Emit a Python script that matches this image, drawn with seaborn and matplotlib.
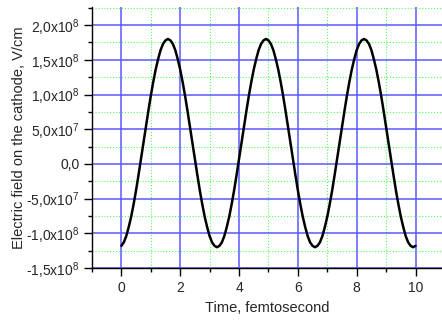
"""
Electric field on the cathode vs time, recreated with seaborn.
"""

import math

import matplotlib
matplotlib.use("Agg")
import matplotlib.pyplot as plt
from matplotlib.ticker import MultipleLocator, FuncFormatter
import numpy as np
import seaborn as sns

field_1e8 = [
    -1.18, -1.13, -1.04, -0.91, -0.76, -0.58, -0.38, -0.16, 0.07, 0.30,
    0.53, 0.76, 0.98, 1.18, 1.36, 1.51, 1.64, 1.73, 1.78, 1.80,
    1.78, 1.73, 1.64, 1.51, 1.36, 1.18, 0.98, 0.76, 0.53, 0.30,
    0.07, -0.16, -0.38, -0.58, -0.76, -0.91, -1.04, -1.13, -1.18, -1.20,
    -1.18, -1.13, -1.04, -0.91, -0.76, -0.58, -0.38, -0.16, 0.07, 0.30,
    0.53, 0.76, 0.98, 1.18, 1.36, 1.51, 1.64, 1.73, 1.78, 1.80,
    1.78, 1.73, 1.64, 1.51, 1.36, 1.18, 0.98, 0.76, 0.53, 0.30,
    0.07, -0.16, -0.38, -0.58, -0.76, -0.91, -1.04, -1.13, -1.18, -1.20,
    -1.18, -1.13, -1.04, -0.91, -0.76, -0.58, -0.38, -0.16, 0.07, 0.30,
    0.53, 0.76, 0.98, 1.18, 1.36, 1.51, 1.64, 1.73, 1.78, 1.80,
    1.78, 1.73, 1.64, 1.51, 1.36, 1.18, 0.98, 0.76, 0.53, 0.30,
    0.07, -0.16, -0.38, -0.58, -0.76, -0.91, -1.04, -1.13, -1.18, -1.20,
    -1.18,
]
time_fs = np.linspace(0, 10, len(field_1e8))
field = np.array(field_1e8) * 1e8

x_ticks = [0, 2, 4, 6, 8, 10]


def sci_comma(v, pos=None):
    """Origin-style labels: 1,5x10^8"""
    if abs(v) < 1:
        return "0,0"
    exp = int(math.floor(math.log10(abs(v)) + 1e-9))
    mant = v / 10 ** exp
    return f"{mant:.1f}".replace(".", ",") + "x10$^{%d}$" % exp


sns.set_style("white")
plt.rcParams["font.family"] = ["Liberation Sans", "DejaVu Sans"]
plt.rcParams["mathtext.fontset"] = "custom"
plt.rcParams["mathtext.rm"] = "Liberation Sans"
plt.rcParams["mathtext.it"] = "Liberation Sans"
plt.rcParams["mathtext.bf"] = "Liberation Sans"

fig = plt.figure(figsize=(4.42, 3.21), dpi=100)
ax = fig.add_axes([0.208, 0.165, 0.792, 0.813])

sns.lineplot(x=time_fs, y=field, color="black", linewidth=1.8, ax=ax)

ax.set_xlim(-1, 10.9)
ax.set_ylim(-1.5e8, 2.26e8)
ax.set_xticks(x_ticks)
ax.xaxis.set_minor_locator(MultipleLocator(1))
ax.yaxis.set_major_locator(MultipleLocator(0.5e8))
ax.yaxis.set_minor_locator(MultipleLocator(0.25e8))
ax.yaxis.set_major_formatter(FuncFormatter(sci_comma))

# grid: blue majors, green dotted minors
ax.set_axisbelow(True)
ax.grid(which="major", color="#5858ff", linestyle="-", linewidth=1.1)
ax.grid(which="minor", color="#55ff55", linestyle=":", linewidth=0.8)

for side in ["top", "right"]:
    ax.spines[side].set_visible(False)
for side in ["left", "bottom"]:
    ax.spines[side].set_color("black")
    ax.spines[side].set_linewidth(1.0)

ax.tick_params(which="major", direction="out", length=6, width=1,
               color="black", labelsize=10, pad=3, left=True, bottom=True)
ax.tick_params(which="minor", direction="out", length=3, width=1,
               color="black", left=True, bottom=True)

ax.set_xlabel("Time, femtosecond", fontsize=10.5, labelpad=5)
ax.set_ylabel("Electric field on the cathode, V/cm", fontsize=10.5, labelpad=0)

fig.savefig("out.png", dpi=100)
